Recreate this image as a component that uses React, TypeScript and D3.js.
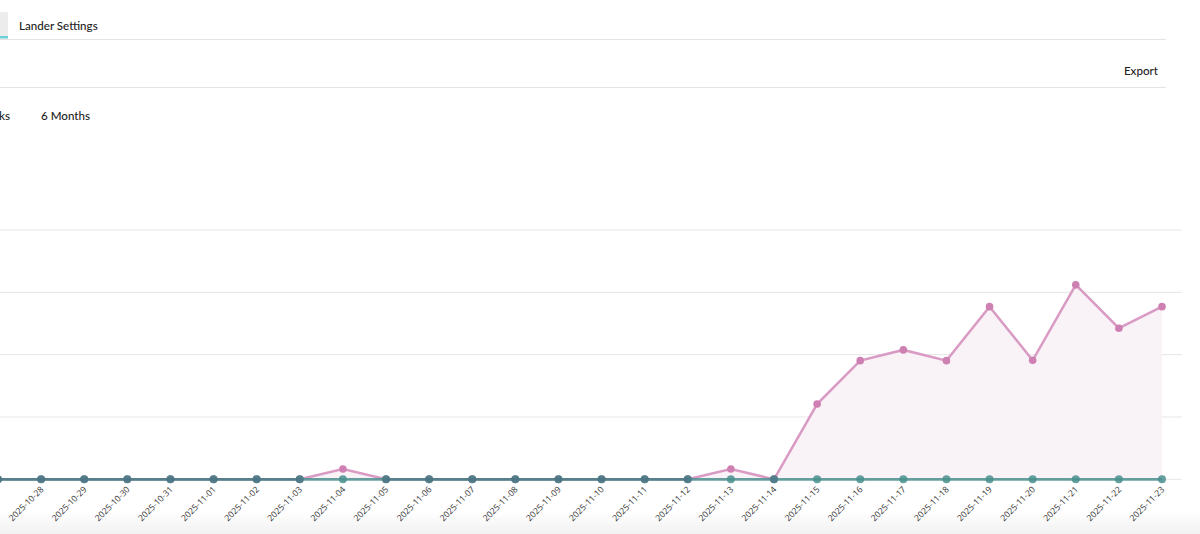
import React from "react";
import * as d3 from "d3";

const dates = [
  "2025-10-27", "2025-10-28", "2025-10-29", "2025-10-30", "2025-10-31",
  "2025-11-01", "2025-11-02", "2025-11-03", "2025-11-04", "2025-11-05",
  "2025-11-06", "2025-11-07", "2025-11-08", "2025-11-09", "2025-11-10",
  "2025-11-11", "2025-11-12", "2025-11-13", "2025-11-14", "2025-11-15",
  "2025-11-16", "2025-11-17", "2025-11-18", "2025-11-19", "2025-11-20",
  "2025-11-21", "2025-11-22", "2025-11-23",
];
const pinkValues = [
  0, 0, 0, 0, 0, 0, 0, 0, 0.83, 0, 0, 0, 0, 0, 0, 0, 0, 0.83, 0, 6.04,
  9.52, 10.38, 9.52, 13.85, 9.55, 15.6, 12.12, 13.85,
];
const tealValues = dates.map(() => 0);
const yTicks = [0, 5, 10, 15, 20];

const W = 1200;
const H = 534;
const FONT = "Lato, 'Open Sans', sans-serif";
const LABEL_FONT = "'Open Sans', 'Noto Sans', sans-serif";

export default function App() {
  const x = d3.scalePoint<string>().domain(dates).range([-2, 1162]);
  const y = d3.scaleLinear().domain([0, 20]).range([479.3, 230]);

  const pinkPts = dates.map((d, i) => ({ d, v: pinkValues[i] }));
  const tealPts = dates.map((d, i) => ({ d, v: tealValues[i] }));

  const line = d3
    .line<{ d: string; v: number }>()
    .x((p) => x(p.d)!)
    .y((p) => y(p.v));
  const area = d3
    .area<{ d: string; v: number }>()
    .x((p) => x(p.d)!)
    .y0(y(0))
    .y1((p) => y(p.v));

  return (
    <svg
      width={W}
      height={H}
      style={{ position: "absolute", left: 0, top: 0, background: "#fff" }}
    >
      <defs>
        <linearGradient id="shade" x1="0" y1="0" x2="0" y2="1">
          <stop offset="0" stopColor="#ffffff" />
          <stop offset="1" stopColor="#f1f1f1" />
        </linearGradient>
      </defs>
      <rect x={0} y={0} width={W} height={H} fill="#fff" />
      <rect x={0} y={512} width={W} height={22} fill="url(#shade)" />

      {/* tabs header */}
      <rect x={0} y={12} width={8} height={25} fill="#ececec" />
      <rect x={0} y={36} width={8} height={2.5} fill="#6ccfd6" />
      <text x={19} y={30} fontFamily={FONT} fontSize={11.6} fontWeight={500} fill="#1d1d1d">
        Lander Settings
      </text>
      <line x1={0} x2={1166} y1={39.5} y2={39.5} stroke="#e4e4e4" />

      <text x={1158} y={75} textAnchor="end" fontFamily={FONT} fontSize={11.6} fontWeight={500} fill="#1d1d1d">
        Export
      </text>
      <line x1={0} x2={1166} y1={87.5} y2={87.5} stroke="#e4e4e4" />

      <text x={10} y={120} textAnchor="end" fontFamily={FONT} fontSize={11.6} fontWeight={500} fill="#1d1d1d">
        ks
      </text>
      <text x={41} y={120} fontFamily={FONT} fontSize={11.6} fontWeight={500} fill="#1d1d1d">
        6 Months
      </text>

      {/* grid */}
      {yTicks.map((t) => (
        <line
          key={t}
          x1={0}
          x2={1182}
          y1={y(t)}
          y2={y(t)}
          stroke="#e6e6e6"
          strokeWidth={1}
        />
      ))}

      {/* pink series */}
      <path d={area(pinkPts)!} fill="#f9f2f7" />
      <path d={line(pinkPts)!} fill="none" stroke="#d99bc4" strokeWidth={2.5} />
      {pinkPts.map((p) => (
        <circle key={"p" + p.d} cx={x(p.d)} cy={y(p.v)} r={3.8} fill="#cf80b2" />
      ))}

      {/* teal series */}
      <path
        d={line(tealPts)!}
        fill="none"
        stroke="#4a8f8e"
        strokeOpacity={0.85}
        strokeWidth={2.8}
      />
      {tealPts.map((p) => (
        <circle
          key={"t" + p.d}
          cx={x(p.d)}
          cy={y(p.v)}
          r={4}
          fill="#4a8f8e"
          fillOpacity={0.85}
        />
      ))}
      {/* overlap darkening where both series are zero */}
      {dates.slice(0, -1).map((d, i) =>
        pinkValues[i] === 0 && pinkValues[i + 1] === 0 ? (
          <line
            key={"o" + d}
            x1={x(d)}
            x2={x(dates[i + 1])}
            y1={y(0)}
            y2={y(0)}
            stroke="#4d6a80"
            strokeOpacity={0.45}
            strokeWidth={2.8}
          />
        ) : null
      )}
      {dates.map((d, i) =>
        pinkValues[i] === 0 ? (
          <circle key={"oc" + d} cx={x(d)} cy={y(0)} r={4} fill="#4d6a80" fillOpacity={0.45} />
        ) : null
      )}

      {/* x labels */}
      {dates.map((d) => (
        <text
          key={"l" + d}
          transform={`translate(${x(d)! + 3},${490}) rotate(-45)`}
          textAnchor="end"
          fontFamily={LABEL_FONT}
          fontSize={8.6}
          fill="#333"
        >
          {d}
        </text>
      ))}
    </svg>
  );
}
